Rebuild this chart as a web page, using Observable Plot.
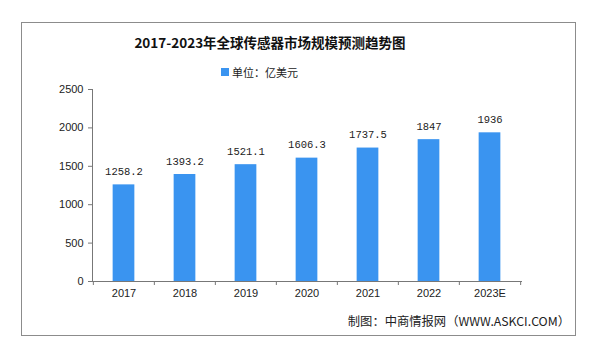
<!DOCTYPE html>
<html>
<head>
<meta charset="utf-8">
<script src="https://cdn.jsdelivr.net/npm/d3@7"></script>
<script src="https://cdn.jsdelivr.net/npm/@observablehq/plot@0.6"></script>
<style>
  body { margin: 0; background: #fff; }
  #wrap { position: relative; width: 600px; height: 357px; overflow: hidden; font-family: "Noto Sans CJK SC", sans-serif; }
  #frame { position: absolute; left: 21px; top: 22px; width: 553px; height: 312px; border: 1px solid #8c8c8c; }
  #title { position: absolute; left: 0; width: 540px; top: 32px; text-align: center; font-size: 13.5px; font-weight: bold; color: #111; line-height: 20px; }
  #legend { position: absolute; left: 221px; top: 64px; font-size: 11px; color: #222; line-height: 16px; display: flex; align-items: center; }
  #legend span.sw { display: inline-block; width: 8px; height: 8px; background: #3a94f0; margin-right: 3px; }
  #chart { position: absolute; left: 0; top: 80px; }
  #caption { position: absolute; right: 30px; top: 312px; font-size: 12.3px; color: #222; line-height: 18px; }
</style>
</head>
<body>
<div id="wrap">
  <div id="frame"></div>
  <div id="title">2017-2023年全球传感器市场规模预测趋势图</div>
  <div id="legend"><span class="sw"></span>单位：亿美元</div>
  <div id="chart"></div>
  <div id="caption">制图：中商情报网（WWW.ASKCI.COM）</div>
</div>
<script>
const years = ["2017", "2018", "2019", "2020", "2021", "2022", "2023E"];
const values = [1258.2, 1393.2, 1521.1, 1606.3, 1737.5, 1847, 1936];
const labels = ["1258.2", "1393.2", "1521.1", "1606.3", "1737.5", "1847", "1936"];
const yTicks = [0, 500, 1000, 1500, 2000, 2500];

const data = years.map((y, i) => ({year: y, value: values[i], label: labels[i]}));

const W = 600, H = 225, mL = 92, mR = 79, mT = 9, mB = 24;
const step = (W - mL - mR) / years.length;
const barW = 22;
const inset = (step - barW) / 2;

// band boundaries (left edge of each band, plus right edge of last)
const bounds = years.map(y => ({year: y, dx: -step / 2})).concat([{year: years[years.length - 1], dx: step / 2}]);

const chart = Plot.plot({
  width: W,
  height: H,
  marginLeft: mL,
  marginRight: mR,
  marginTop: mT,
  marginBottom: mB,
  style: {fontFamily: "'Liberation Sans', Arial, sans-serif", fontSize: "11px", color: "#222", background: "transparent"},
  x: {domain: years, padding: 0, label: null},
  y: {domain: [0, 2500], label: null},
  marks: [
    Plot.barY(data, {x: "year", y: "value", fill: "#3a94f0", insetLeft: inset, insetRight: inset}),
    Plot.text(data, {x: "year", y: "value", text: "label", dy: -10, lineAnchor: "bottom",
      fontFamily: "'Liberation Mono', 'DejaVu Sans Mono', monospace", fontSize: 10.5, fill: "#222"}),
    Plot.axisY({ticks: yTicks, tickFormat: d => String(d), tickSize: 4, tickPadding: 5, stroke: "#777", label: null, fill: "#222"}),
    Plot.axisX({tickSize: 0, tickPadding: 8, label: null, fill: "#222"}),
    ...bounds.map(b => Plot.ruleX([b], {x: "year", y1: 0, y2: 0, insetBottom: -4, dx: b.dx, stroke: "#777"})),
    Plot.frame({anchor: "left", stroke: "#777"}),
    Plot.frame({anchor: "bottom", stroke: "#777"})
  ]
});
document.getElementById("chart").appendChild(chart);
</script>
</body>
</html>
